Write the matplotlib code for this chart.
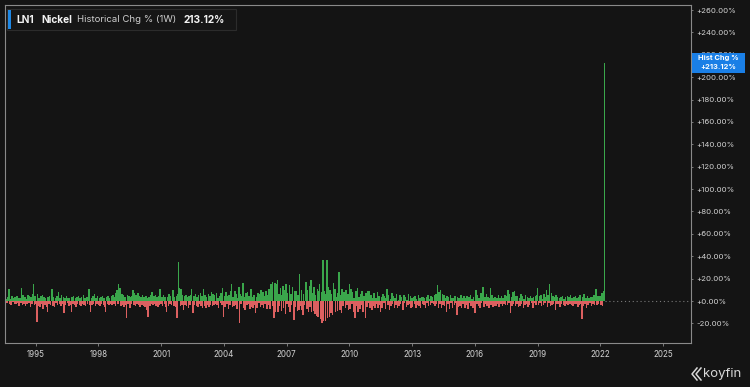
import matplotlib
matplotlib.use("Agg")
import matplotlib.pyplot as plt
import matplotlib.dates as mdates
from matplotlib.patches import Rectangle
from matplotlib.lines import Line2D
import numpy as np
import pandas as pd
import datetime as dt

plt.rcParams['font.family'] = ['Inter', 'DejaVu Sans']

# ---- Data: bi-weekly readings of weekly % change, LN1 Nickel ----
chg_1993_1998 = [
    2.1, -1.5, 3.4, 10.7, -2.8, 1.9, -3.6, 4.2, -1.2, 2.7, -2.4, 3.8, -3.1,
    4.6, -2.2, 3.1, -4.0, 2.5, -1.8, 12.0, -3.3, 5.2, -2.6, 3.6, -4.4, 2.2,
    -3.0, 5.8, -2.1, 4.1, -5.2, 3.3, -2.7, 6.5, 15.0, -3.9, 4.8, -2.5, -18.5,
    6.2, -4.3, 3.0, -5.6, 4.4, -2.4, 5.1, -6.8, 3.2, -3.5, 2.7, -4.9, -10.0,
    3.9, -2.9, 4.7, -3.4, 2.6, 10.4, -4.6, 3.5, -5.3, 2.8, -2.2, 4.1, -3.8,
    8.0, -3.1, 2.9, -4.5, 5.4, -2.6, 3.8, -11.0, 2.4, -3.7, 4.3, -2.0, 3.1,
    -4.2, 2.7, -3.2, -9.5, 3.6, -2.9, 4.9, -3.6, 2.3, -5.0, 3.7, -2.8, 4.4,
    -3.4, 2.5, -4.7, 3.3, -2.3, 5.6, -3.9, 2.9, -4.1, 3.4, -2.7, 4.0, 11.0,
    -3.2, -10.0, 2.8, -3.6, 4.2, -2.5, 6.0, -4.4, 3.0, -2.9, 4.6, -3.7, 2.6,
]
chg_1998_2003 = [
    -4.0, 3.5, -2.6, 4.8, -3.3, 2.4, -5.5, -9.5, 3.9, -2.8, 4.5, -3.6, 2.9,
    -2.7, 4.1, -3.5, 5.2, -2.4, 3.3, -4.2, 6.8, 9.5, -3.1, 15.0, 8.2, 12.0,
    -4.8, 6.3, -3.2, 5.7, -5.1, 4.0, -3.6, -15.5, 5.4, -3.0, 4.6, -6.5, 3.8,
    -2.9, 4.4, 10.0, -3.7, 7.0, -4.3, 5.6, -2.8, 6.9, -3.9, 4.2, -5.2, 3.3,
    -3.4, 5.0, -4.6, 3.7, -5.5, 4.1, -8.0, 2.9, -14.0, 3.6, -4.2, 5.3, -3.0,
    8.0, -3.8, 4.6, -2.7, 5.5, -4.1, 3.2, -5.0, 4.3, -3.3, 11.0, -2.9, 3.9,
    -4.4, 5.1, -3.0, 4.0, -5.7, -9.5, 3.5, -4.0, 6.2, -2.8, 4.7, -3.5, 5.3,
    10.0, -4.6, 3.8, -5.2, 4.4, -15.5, 6.0, 34.6, 12.0, -4.8, 11.0, -3.4, 5.6,
    -8.0, 4.2, -3.6, 5.8, -4.5, 3.5, -6.1, 4.8, -3.2, 5.2, 11.0, -4.0, -11.0,
    4.5, -3.5, 6.2, -4.8, 3.9, -5.6, 5.0, -3.1, 7.4, -4.3, 4.6, -5.9, 10.5,
    -4.1, 5.3, -6.5, 4.0, -3.8, 6.6, -5.2, 4.7, -3.4, 8.0, -4.6, 5.9, -3.7,
]
chg_2003_2009 = [
    5.6, -2.4, 6.8, -3.6, 3.1, -5.8, 4.3, -1.9, 7.2, -3.9, 12.0, -14.0, 4.4,
    -5.3, 7.8, -2.6, 4.1, -6.9, 5.5, -3.2, 9.0, 15.0, -5.7, 3.4, -4.8, 8.6,
    -3.2, 5.9, -7.5, 2.8, 12.8, -20.0, 6.6, -3.1, 4.9, 16.0, -6.4, 3.2, -8.3,
    6.9, -3.6, 8.4, -2.7, 4.2, -7.1, 11.0, -5.3, 3.5, -6.0, 5.4, -3.7, -11.0,
    3.8, -6.6, 7.3, -2.0, 6.4, -4.9, 10.0, -3.5, 8.1, -6.3, 4.8, -2.9, 9.2,
    -6.7, 5.6, -3.4, 11.0, -7.3, 15.0, 9.4, 17.0, -4.8, -15.5, 16.0, -9.6, 15.5,
    19.0, -10.2, 6.7, -4.8, 11.5, -9.0, 5.2, 13.0, -6.5, 9.8, -11.2, 15.0, -3.0,
    7.5, -5.1, 14.0, -9.7, 6.6, -3.4, 12.2, -10.8, -17.0, 9.1, -5.6, 8.8, -9.2,
    5.4, -7.6, 24.0, -4.5, 10.3, -8.2, -12.5, 6.7, -3.9, 11.4, 17.0, -6.8, 9.6,
    -9.4, 13.2, -5.0, 19.0, -10.1, 7.0, -9.0, 12.5, -12.0, 5.5, -13.5, 10.8, -14.0,
    9.3, 15.0, -16.0, 8.5, -20.0, 36.6, -17.5, 9.0, -18.0, 6.2, 37.0, -15.5, 12.4,
]
chg_2009_2015 = [
    -14.0, 9.8, -11.0, 6.5, -12.5, 16.0, 4.2, 10.9, -9.5, 3.8, -8.6, 7.2, 25.6,
    -7.8, 5.5, -10.9, 11.0, -4.4, 8.0, 2.1, -6.1, 9.7, -3.6, 6.1, -8.2, 15.0,
    -6.7, 10.5, -3.0, 7.9, -9.4, 2.8, -15.5, 8.6, -4.2, 11.4, -9.9, 3.6, -7.5,
    6.1, -3.6, 9.0, -9.7, 4.2, 2.9, -15.5, 7.4, -5.3, 9.3, -2.1, 8.8, -6.5,
    5.5, -8.0, 2.9, -4.3, 7.2, -6.6, 3.1, -2.9, 8.3, -5.9, 4.5, -3.4, -9.5,
    3.8, -6.2, 6.7, -2.0, 4.9, -7.4, 2.3, 11.0, -3.8, 5.4, -7.6, 1.7, -4.1,
    7.0, -2.5, 4.6, -6.2, 2.6, -3.8, 6.4, -5.9, 1.3, -4.3, 5.1, -2.5, 3.9,
    -3.9, -8.0, 5.8, -2.0, 3.7, -5.4, 1.1, -3.6, 6.0, -2.9, 4.5, -6.2, 2.8,
    -5.1, 3.3, -2.7, 4.9, -6.1, 1.7, -3.6, 5.2, -4.3, 2.4, -5.9, 3.3, -2.7,
    4.0, -3.5, 2.6, -5.8, 3.9, -2.0, 5.3, -4.6, 1.4, -3.5, 4.8, -2.2, 3.4,
    -2.4, 5.8, -4.3, 6.5, -2.9, 14.0, -5.8, 8.5, -3.0, 10.0, -6.1, 6.0, -3.5,
    5.2, -4.4, 2.5, -9.5, 4.9, -2.9, 3.2, -6.7, 5.1, -2.0, 3.0, -5.8, 2.6,
]
chg_2015_2022 = [
    -3.7, 4.4, -2.2, -12.5, 3.8, -5.4, 2.6, -4.0, 5.1, -6.6, 3.0, -2.3, 4.9,
    -6.5, 2.4, -3.8, 4.8, -7.2, 3.6, -2.1, 5.3, -4.5, 2.2, -6.6, 4.0, -3.9,
    -11.0, 10.0, -2.6, 5.5, -4.7, 3.1, -6.0, 7.1, -2.2, 4.7, 12.8, -5.4, 3.8,
    -2.9, 6.4, -4.5, 3.2, -6.3, 2.6, 12.0, -3.8, 5.7, -5.6, 2.9, -4.2, 3.7,
    -4.4, 3.0, -2.9, 5.3, -5.6, 2.8, -3.1, 4.9, -4.8, 2.3, -2.9, 5.0, -3.6,
    4.5, -3.3, 10.0, -2.0, 6.4, -11.0, 3.2, -4.7, 8.0, -2.4, 9.3, -4.5, 4.1,
    -3.1, 4.8, -5.2, 2.9, -4.7, 6.4, -2.9, 4.2, -5.8, 2.0, -3.3, 5.1, -2.4,
    3.5, -5.6, 2.3, -3.9, 4.7, -2.2, 2.9, -6.3, 3.6, -2.0, 4.2, -3.8, 5.1,
    12.0, -3.7, 4.8, -2.1, 5.5, -4.4, 2.2, -3.6, 6.3, -2.2, 4.0, 10.0, -4.9,
    5.3, -2.0, 15.0, -4.8, 7.6, -3.5, 4.9, -2.3, 3.5, -8.0, 5.1, -2.9, 3.4,
    -3.1, 2.6, -5.5, 3.7, -2.6, 4.1, -3.8, 2.0, -4.0, 3.5, -2.3, 4.6, -3.7,
    3.3, -2.9, 5.2, -3.4, 2.8, -4.8, 3.9, -2.6, 4.7, -3.1, 2.4, -5.2, 3.9,
    -3.5, 5.4, -2.7, -16.4, 3.7, -4.2, 5.9, -2.9, 3.1, -5.8, 4.6, -3.4, 2.5,
    -2.2, 4.0, -4.1, 3.3, -2.9, 5.6, -3.6, 2.7, 11.0, -3.3, 4.8, -2.5, 4.3,
    4.8, -3.9, 7.5, -4.4, 8.8, 213.12,
]
last_date = "2022-03-11"
y_ticks = list(range(-20, 261, 20))
x_tick_years = list(range(1995, 2026, 3))
title_parts = ["LN1", "Nickel", "Historical Chg % (1W)", "213.12%"]

values = np.array(chg_1993_1998 + chg_1998_2003 + chg_2003_2009 + chg_2009_2015 + chg_2015_2022)
dates = pd.date_range(end=last_date, periods=len(values), freq="14D")

# ---- Figure ----
W, H = 750, 387
BG = "#141414"
fig = plt.figure(figsize=(W / 100, H / 100), dpi=100, facecolor=BG)

def fx(px):
    return px / W

def fy(py):
    return 1 - py / H

ax = fig.add_axes([fx(5), fy(343), fx(691) - fx(5), fy(5) - fy(343)], facecolor=BG)

colors = np.where(values >= 0, "#3aa64b", "#dc6060")
xd = mdates.date2num(dates)
widths = np.where(np.arange(len(values)) == len(values) - 1, 14, 26)
ax.bar(xd, values, width=widths, color=colors, linewidth=0, align="center")

# dotted zero line from last point to the right edge
xmin = mdates.date2num(dt.datetime(1993, 7, 13))
xmax = mdates.date2num(dt.datetime(2026, 5, 5))
ax.plot([xd[-1] + 5, xmax], [0, 0], color="#7a7a7a", lw=0.8, ls=(0, (1, 2.5)))

ax.set_xlim(xmin, xmax)
ax.set_ylim(-37.5, 264.5)

ax.yaxis.tick_right()
ax.set_yticks(y_ticks)
ax.set_yticklabels([f"{v:+.2f}%" for v in y_ticks])
ax.set_xticks([mdates.date2num(dt.datetime(y, 1, 1)) for y in x_tick_years])
ax.set_xticklabels([str(y) for y in x_tick_years])
ax.tick_params(axis="y", colors="#8a8a8a", labelcolor="#d2d2d2", labelsize=5.6,
               length=1.5, width=0.6, pad=2.5)
ax.tick_params(axis="x", colors="#8a8a8a", labelcolor="#d2d2d2", labelsize=5.8,
               length=2.5, width=0.6, pad=2.5)
for s in ax.spines.values():
    s.set_color("#8a8a8a")
    s.set_linewidth(0.8)

# ---- title box ----
fig.add_artist(Rectangle((fx(7), fy(30)), fx(236) - fx(7), fy(9) - fy(30),
                         transform=fig.transFigure, facecolor="#161616",
                         edgecolor="#2c2c2c", lw=0.8, zorder=4))
fig.add_artist(Rectangle((fx(8), fy(29)), fx(2.5), fy(10) - fy(29),
                         transform=fig.transFigure, facecolor="#1e88e5",
                         edgecolor="none", zorder=5))
ty = fy(20)
fig.text(fx(16), ty, title_parts[0], color="#f2f2f2", fontsize=7.3, fontweight="bold", va="center", zorder=6)
fig.text(fx(41), ty, title_parts[1], color="#f2f2f2", fontsize=7.3, fontweight="bold", va="center", zorder=6)
fig.text(fx(77), ty, title_parts[2], color="#cfcfcf", fontsize=6.9, va="center", zorder=6)
fig.text(fx(184), ty, title_parts[3], color="#f2f2f2", fontsize=7.3, fontweight="bold", va="center", zorder=6)

# ---- last value label on the right axis ----
yv = values[-1]
y_px = 301 - yv * 1.119
fig.add_artist(Rectangle((fx(692), fy(y_px + 10)), fx(745) - fx(692), fy(y_px - 10) - fy(y_px + 10),
                         transform=fig.transFigure, facecolor="#1a7fe6",
                         edgecolor="none", zorder=5))
fig.text(fx(718.5), fy(y_px - 4.5), "Hist Chg %", color="white", fontsize=5.4,
         fontweight="bold", ha="center", va="center", zorder=6)
fig.text(fx(718.5), fy(y_px + 4.5), f"{yv:+.2f}%", color="white", fontsize=5.4,
         fontweight="bold", ha="center", va="center", zorder=6)

# ---- koyfin mark ----
fig.text(fx(703), fy(374), "koyfin", color="#d8d8d8", fontsize=9.5, va="center", ha="left")
for dx in (0, 4):
    fig.add_artist(Line2D([fx(697 + dx), fx(692 + dx), fx(697 + dx)],
                          [fy(368), fy(374), fy(380)], transform=fig.transFigure,
                          color="#d8d8d8", lw=1.1))

fig.savefig("out.png", dpi=100, facecolor=BG)
